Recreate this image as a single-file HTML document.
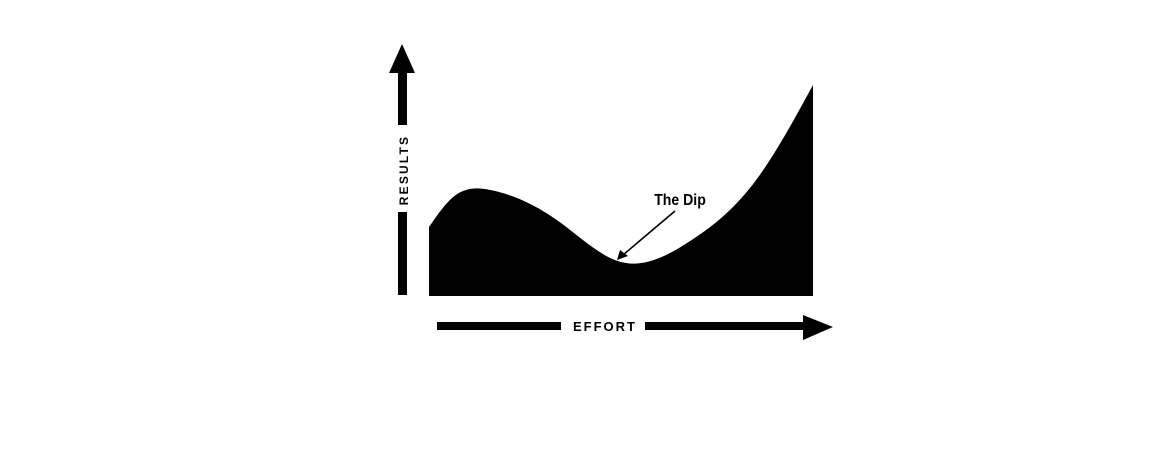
<!DOCTYPE html>
<html><head><meta charset="utf-8"><style>
html,body{margin:0;padding:0;background:#fff;}
svg{display:block;}
</style></head><body>
<svg width="1160" height="462" viewBox="0 0 1160 462">
<rect x="0" y="0" width="1160" height="462" fill="#fff"/>
<g id="area-layer"></g>
<g>
  <polygon points="402,44 389,73 415,73" fill="#000"/>
  <rect x="398" y="72" width="9" height="53" fill="#000"/>
  <rect x="398" y="212" width="9" height="83" fill="#000"/>
  <text x="0" y="0" transform="translate(408,170) rotate(-90)" text-anchor="middle" font-family="Liberation Sans, sans-serif" font-weight="bold" font-size="12" letter-spacing="2.2" fill="#000">RESULTS</text>
</g>
<g>
  <rect x="437" y="322" width="124" height="8" fill="#000"/>
  <rect x="645" y="322" width="160" height="8" fill="#000"/>
  <polygon points="833,327 803,315 803,340" fill="#000"/>
  <text x="605" y="331" text-anchor="middle" font-family="Liberation Sans, sans-serif" font-weight="bold" font-size="13" letter-spacing="2" fill="#000">EFFORT</text>
</g>
<g>
  <text x="680" y="205" text-anchor="middle" font-family="Liberation Sans, sans-serif" font-weight="bold" font-size="16" transform="translate(680,0) scale(0.88,1) translate(-680,0)" fill="#000">The Dip</text>
  <line x1="675" y1="211" x2="623" y2="255" stroke="#000" stroke-width="1.6"/>
  <polygon points="617,260 620,250 628,256" fill="#000"/>
</g>
</svg>
<script>
const effort = [0, 6, 16, 34, 50, 68, 85, 100];
const results = [69, 98, 106, 74, 34, 55, 115, 211];

const xScale = v => 429 + (v / 100) * 384;
const yScale = v => 296 - (v / 220) * 220;

// natural cubic spline through the data points
const X = effort.map(xScale), Y = results.map(yScale);
const n = X.length;
const h = [], a = [], l = [1], mu = [0], z = [0];
for (let i = 0; i < n - 1; i++) h.push(X[i + 1] - X[i]);
for (let i = 1; i < n - 1; i++) a[i] = 3 / h[i] * (Y[i + 1] - Y[i]) - 3 / h[i - 1] * (Y[i] - Y[i - 1]);
for (let i = 1; i < n - 1; i++) {
  l[i] = 2 * (X[i + 1] - X[i - 1]) - h[i - 1] * mu[i - 1];
  mu[i] = h[i] / l[i];
  z[i] = (a[i] - h[i - 1] * z[i - 1]) / l[i];
}
const c = new Array(n).fill(0), b = [], dd = [];
for (let j = n - 2; j >= 0; j--) {
  c[j] = z[j] - mu[j] * c[j + 1];
  b[j] = (Y[j + 1] - Y[j]) / h[j] - h[j] * (c[j + 1] + 2 * c[j]) / 3;
  dd[j] = (c[j + 1] - c[j]) / (3 * h[j]);
}
let d = `M${X[0]},${yScale(0)} L${X[0]},${Y[0]}`;
for (let i = 0; i < n - 1; i++) {
  const steps = 24;
  for (let s = 1; s <= steps; s++) {
    const t = h[i] * s / steps;
    const y = Y[i] + b[i] * t + c[i] * t * t + dd[i] * t * t * t;
    d += ` L${(X[i] + t).toFixed(2)},${y.toFixed(2)}`;
  }
}
d += ` L${X[n - 1]},${yScale(0)} Z`;
const path = document.createElementNS('http://www.w3.org/2000/svg', 'path');
path.setAttribute('d', d);
path.setAttribute('fill', '#000');


document.getElementById('area-layer').appendChild(path);
</script>
</body></html>
